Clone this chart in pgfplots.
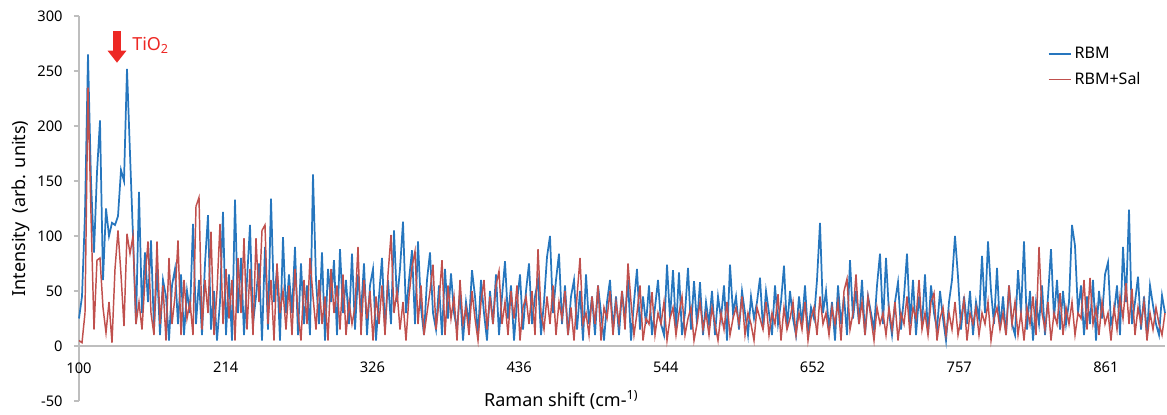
\documentclass[border=0pt]{standalone}
\usepackage{fontspec}
\setmainfont{Noto Sans}
\usepackage{pgfplots}
\pgfplotsset{compat=1.18}
\usetikzlibrary{arrows.meta,calc}

\definecolor{rbm}{RGB}{38,118,190}
\definecolor{sal}{RGB}{192,80,77}
\definecolor{axgray}{RGB}{190,190,190}
\definecolor{tio}{RGB}{237,40,36}

\begin{document}
\begin{tikzpicture}
\begin{axis}[
  scale only axis,
  width=814.5pt, height=288.75pt,
  xmin=0, xmax=1086, ymin=-50, ymax=300,
  axis x line=middle, axis y line=left,
  hide obscured x ticks=false, hide obscured y ticks=false,
  axis line style={draw=axgray, line width=0.8pt, -},
  x axis line style={-}, y axis line style={-},
  xtick={0,146.7,293.4,440.1,586.8,733.5,880.2,1026.9},
  xticklabels={100,214,326,436,544,652,757,861},
  xtick style={draw=none},
  ytick={-50,0,...,300},
  tick align=outside, major tick length=3.75pt,
  ytick style={draw=axgray, line width=0.8pt},
  /pgf/number format/assume math mode=true,
  tick label style={font=\fontsize{11}{13}\selectfont, text=black},
  xticklabel style={yshift=-5pt},
  yticklabel style={xshift=-5pt},
  xlabel={Raman shift (cm-\textsuperscript{1)}},
  ylabel={Intensity\ \ (arb. units)},
  label style={font=\fontsize{13.5}{16}\selectfont},
  xlabel style={at={(axis description cs:0.444,0.003)}, anchor=center},
  ylabel style={at={(axis description cs:-0.054,0.5)}, anchor=center, rotate=0},
  legend style={draw=none, fill=none, at={(0.888,0.934)}, anchor=north west,
    font=\fontsize{12}{14}\selectfont, row sep=5pt},
  legend cell align=left,
  legend image code/.code={\draw[#1] (0pt,0pt) -- (17pt,0pt);},
  clip=false,
]
\addplot[rbm, line width=1.3pt] table[row sep=\\, header=false, y index=0, x expr=\coordindex*3] {
25\\45\\120\\265\\150\\85\\158\\205\\60\\125\\
100\\112\\110\\118\\160\\150\\252\\175\\100\\20\\
140\\30\\85\\40\\96\\15\\72\\10\\60\\45\\
5\\55\\70\\20\\65\\10\\50\\30\\111\\20\\
60\\10\\75\\119\\15\\50\\5\\40\\122\\10\\
65\\5\\133\\30\\80\\10\\60\\110\\20\\45\\
75\\5\\90\\15\\134\\40\\70\\5\\99\\30\\
65\\30\\90\\10\\75\\20\\55\\10\\156\\60\\
20\\85\\5\\70\\40\\78\\10\\88\\30\\60\\
20\\84\\15\\65\\30\\75\\10\\55\\70\\5\\
45\\80\\15\\60\\20\\105\\40\\70\\113\\30\\
60\\87\\20\\95\\35\\10\\60\\85\\30\\15\\
55\\10\\70\\25\\66\\30\\15\\50\\5\\40\\
20\\69\\45\\10\\60\\30\\5\\50\\20\\65\\
10\\45\\77\\25\\55\\5\\40\\65\\15\\50\\
75\\20\\45\\60\\10\\40\\81\\100\\30\\60\\
84\\20\\55\\10\\45\\60\\15\\50\\5\\65\\
20\\45\\10\\55\\30\\5\\40\\60\\15\\45\\
10\\50\\25\\60\\5\\40\\70\\15\\45\\20\\
55\\10\\35\\60\\20\\10\\74\\25\\69\\15\\
67\\10\\30\\71\\15\\59\\20\\58\\10\\40\\
20\\50\\10\\45\\25\\55\\5\\74\\30\\45\\
15\\50\\30\\10\\45\\25\\40\\62\\15\\50\\
30\\10\\55\\20\\40\\73\\15\\50\\25\\10\\
45\\20\\55\\10\\35\\25\\60\\112\\30\\50\\
15\\40\\5\\55\\20\\45\\10\\78\\25\\50\\
20\\60\\10\\45\\30\\15\\55\\84\\20\\80\\
30\\10\\40\\58\\15\\45\\84\\20\\60\\10\\
45\\20\\65\\10\\55\\30\\15\\50\\25\\5\\
40\\60\\100\\63\\15\\45\\20\\50\\10\\40\\
25\\82\\30\\95\\50\\20\\71\\15\\45\\10\\
55\\20\\10\\69\\30\\95\\15\\50\\5\\40\\
20\\55\\10\\45\\88\\25\\60\\15\\50\\20\\
40\\110\\91\\30\\55\\10\\45\\20\\60\\5\\
50\\25\\65\\76\\20\\30\\55\\10\\90\\40\\
124\\20\\40\\63\\15\\45\\10\\55\\37\\20\\
10\\46\\30\\
};
\addlegendentry{RBM}
\addplot[sal, line width=1.1pt] table[row sep=\\, header=false, y index=0, x expr=\coordindex*3] {
5\\3\\30\\235\\120\\15\\78\\80\\35\\12\\
40\\3\\70\\105\\65\\18\\102\\84\\100\\20\\
40\\15\\60\\95\\30\\10\\95\\20\\55\\5\\
80\\20\\45\\96\\10\\60\\25\\40\\10\\127\\
135\\15\\60\\30\\104\\10\\50\\111\\20\\70\\
25\\60\\5\\80\\30\\98\\15\\70\\10\\98\\
40\\105\\110\\20\\60\\5\\75\\30\\50\\15\\
55\\10\\70\\30\\5\\60\\20\\80\\45\\15\\
60\\20\\45\\5\\70\\30\\55\\15\\65\\10\\
40\\20\\35\\90\\10\\60\\25\\50\\5\\45\\
20\\55\\10\\65\\101\\30\\50\\15\\40\\5\\
45\\72\\86\\20\\55\\10\\30\\50\\74\\15\\
40\\78\\10\\55\\25\\45\\5\\60\\20\\35\\
10\\50\\25\\5\\40\\60\\15\\45\\20\\55\\
68\\20\\40\\10\\50\\25\\55\\5\\35\\45\\
20\\50\\10\\88\\30\\15\\45\\20\\55\\10\\
40\\25\\50\\10\\35\\5\\45\\80\\20\\30\\
10\\45\\20\\55\\5\\35\\25\\50\\10\\40\\
20\\50\\15\\75\\40\\10\\30\\55\\5\\25\\
20\\49\\10\\30\\20\\40\\5\\25\\35\\10\\
30\\45\\10\\25\\35\\5\\20\\40\\15\\30\\
10\\35\\20\\5\\30\\15\\40\\10\\25\\35\\
20\\45\\10\\30\\20\\5\\35\\25\\15\\40\\
10\\30\\20\\47\\5\\35\\15\\25\\40\\10\\
30\\15\\40\\5\\25\\35\\10\\45\\20\\30\\
10\\35\\20\\40\\5\\50\\61\\15\\30\\65\\
20\\40\\10\\45\\25\\5\\35\\20\\30\\10\\
35\\15\\40\\5\\30\\20\\45\\10\\35\\25\\
60\\15\\30\\10\\40\\48\\5\\25\\35\\10\\
30\\15\\40\\10\\25\\42\\5\\30\\20\\35\\
10\\30\\20\\40\\5\\25\\35\\15\\30\\10\\
55\\20\\40\\10\\30\\5\\35\\20\\45\\10\\
90\\30\\15\\40\\5\\30\\20\\48\\10\\35\\
20\\40\\10\\30\\25\\60\\15\\62\\20\\35\\
10\\40\\20\\30\\5\\35\\15\\45\\25\\57\\
20\\52\\10\\35\\20\\40\\5\\30\\15\\35\\
20\\10\\30\\
};
\addlegendentry{RBM+Sal}
\draw[tio, line width=6pt, -{Triangle[length=9pt,width=13.5pt]}] (axis cs:38,286) -- (axis cs:38,257.5);
\node[anchor=west, text=tio, font=\fontsize{13.5}{16}\selectfont, inner sep=0pt] at (axis cs:53,273.6) {TiO\textsubscript{2}};
\coordinate (SW) at (rel axis cs:0,0);
\coordinate (NE) at (rel axis cs:1,1);
\end{axis}
\pgfresetboundingbox
\path ($(SW)+(-59.25pt,-9.75pt)$) rectangle ($(NE)+(1.5pt,12pt)$);
\end{tikzpicture}
\end{document}
